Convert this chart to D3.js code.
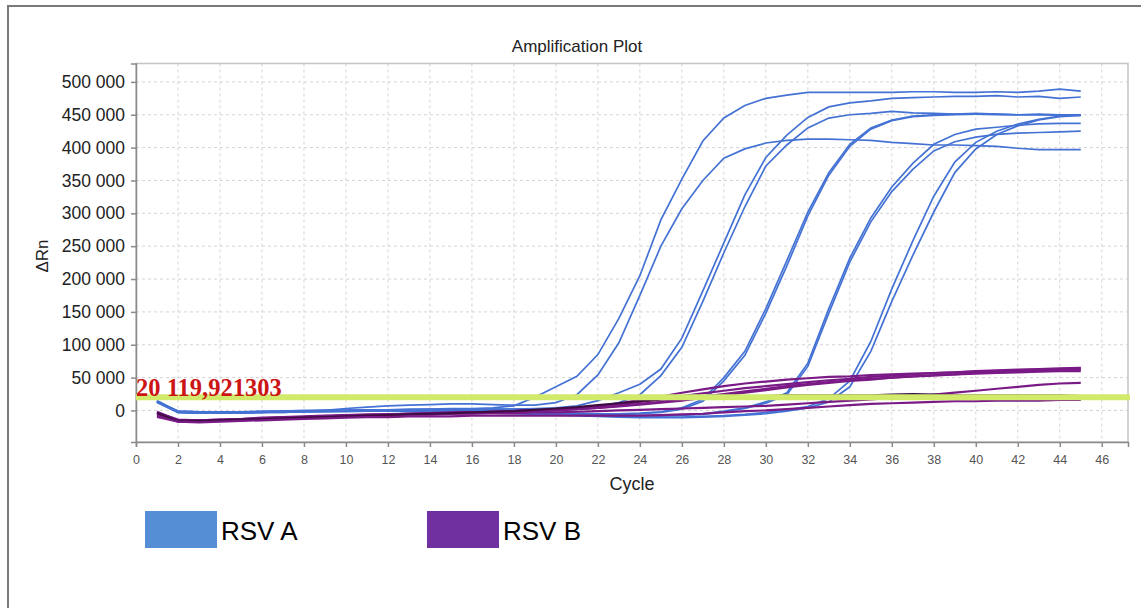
<!DOCTYPE html>
<html>
<head>
<meta charset="utf-8">
<script src="https://cdn.jsdelivr.net/npm/d3@7/dist/d3.min.js"></script>
<style>
    body { margin: 0; background: #fff; }
    svg { font-family: Arial, "Liberation Sans", sans-serif; }
</style>
</head>
<body>
<script>
// cycle numbers (x)
var cycles = [1,2,3,4,5,6,7,8,9,10,11,12,13,14,15,16,17,18,19,20,21,22,23,24,25,26,27,28,29,30,
              31,32,33,34,35,36,37,38,39,40,41,42,43,44,45];

// ΔRn, in thousands, one value per cycle
// RSV A (blue)
var a1 = [14,-2,-3,-3,-2,-2,-1,-1,0,0,1,1,2,2,3,3,4,7,20,36,52,85,140,205,290,352,410,445,464,475,480,484,484,484,484,484,485,485,484,484,485,484,486,489,486];
var a2 = [13,-1,-2,-2,-2,-1,-1,0,0,3,5,7,8,9,10,10,9,8,8,12,24,54,103,175,250,307,350,384,398,407,411,413,413,412,411,408,406,404,404,403,402,399,397,397,397];
var a3 = [14,-2,-3,-3,-3,-2,-2,-1,-1,0,0,1,1,2,2,2,2,2,3,4,7,15,27,40,63,110,182,255,328,385,419,446,462,468,471,475,476,477,478,478,479,477,478,475,477];
var a4 = [12,-3,-4,-4,-3,-3,-2,-2,-1,-1,0,0,1,1,1,2,2,2,2,1,2,5,12,24,53,96,166,240,310,372,404,430,445,450,452,455,453,452,451,451,450,450,450,449,449];
var a5 = [15,-2,-3,-3,-3,-2,-2,-1,-1,0,0,1,1,1,1,0,0,-1,-2,-3,-4,-5,-5,-4,-2,4,17,50,90,155,228,302,362,405,430,442,448,450,451,452,451,450,451,450,450];
var a6 = [14,-1,-2,-2,-2,-2,-1,-1,0,0,1,1,1,1,0,0,-1,-2,-3,-4,-5,-6,-6,-5,-3,2,14,45,84,148,220,296,358,402,428,441,447,449,450,451,451,450,450,450,450];
var a7 = [13,-3,-4,-4,-3,-3,-2,-2,-1,-1,-1,0,0,0,-1,-1,-2,-3,-4,-5,-6,-7,-8,-8,-8,-7,-5,-1,4,13,27,72,155,232,293,340,376,405,420,428,431,434,436,437,437];
var a8 = [14,-2,-3,-3,-3,-2,-2,-1,-1,-1,0,0,0,-1,-1,-2,-2,-3,-4,-5,-6,-7,-7,-8,-8,-7,-6,-2,3,11,24,67,148,226,287,333,367,395,409,416,420,422,423,424,425];
var a9 = [13,-3,-4,-4,-4,-3,-3,-2,-2,-1,-1,-1,-1,-2,-2,-3,-3,-4,-5,-6,-7,-8,-9,-10,-10,-10,-9,-8,-6,-3,1,6,18,45,105,185,258,326,378,408,425,436,443,448,450];
var a10 = [14,-2,-3,-4,-4,-3,-3,-2,-2,-2,-1,-1,-2,-2,-3,-3,-4,-5,-6,-7,-8,-9,-10,-11,-11,-11,-10,-9,-7,-5,-1,4,13,36,90,166,236,302,362,398,420,433,442,447,449];

// RSV B (purple)
var b1 = [-2,-15,-16,-15,-14,-12,-11,-10,-9,-8,-7,-6,-5,-5,-4,-3,-2,-1,0,2,4,7,11,16,21,27,32,37,41,44,47,49,51,52,54,55,56,57,58,59,60,61,62,63,64];
var b2 = [-5,-17,-17,-16,-15,-13,-12,-11,-10,-9,-8,-7,-6,-6,-5,-4,-3,-2,-1,0,2,4,7,10,13,17,21,25,29,33,37,40,43,46,48,50,52,54,55,57,58,59,60,61,62];
var b3 = [-8,-16,-16,-15,-13,-12,-11,-10,-9,-8,-7,-6,-5,-4,-4,-3,-2,-1,0,1,3,6,9,13,17,22,26,30,34,37,40,43,46,48,51,53,55,57,58,60,61,62,63,64,65];
var b4 = [-3,-14,-15,-14,-13,-11,-10,-9,-8,-7,-6,-6,-5,-4,-3,-3,-2,-1,0,1,2,4,6,9,12,15,19,23,27,31,35,39,42,45,47,50,52,53,55,56,57,58,59,60,60];
var b5 = [-6,-15,-15,-14,-13,-12,-11,-10,-9,-8,-7,-7,-6,-6,-5,-5,-4,-4,-3,-3,-2,-1,0,1,2,3,4,5,6,7,9,11,13,15,17,19,21,24,27,30,33,36,39,41,42];
var b6 = [-4,-16,-16,-15,-14,-13,-12,-11,-10,-9,-8,-7,-6,-5,-4,-3,-2,-1,1,3,5,8,11,14,17,19,21,22,22,22,23,23,23,23,23,24,25,24,23,23,23,23,23,23,22];
var b7 = [-10,-17,-18,-17,-16,-15,-14,-13,-12,-11,-10,-10,-9,-9,-9,-8,-8,-8,-8,-8,-8,-8,-8,-8,-7,-6,-5,-3,-1,0,2,4,6,8,10,11,12,13,14,14,15,15,15,16,16];

var rsvA = [a1, a2, a3, a4, a5, a6, a7, a8, a9, a10];
var rsvB = [b1, b2, b3, b4, b5, b6, b7];

// threshold and axis ticks
var threshold = 20119.921303;
var thresholdLabel = "20 119,921303";
var yTicks = [0,50000,100000,150000,200000,250000,300000,350000,400000,450000,500000];
var xTicks = [0,2,4,6,8,10,12,14,16,18,20,22,24,26,28,30,32,34,36,38,40,42,44,46];

var legendNames = ["RSV A", "RSV B"];
var legendColours = ["#558ed5", "#7030a0"];

var width = 1141, height = 608;
var plotLeft = 136, plotRight = 1128, plotTop = 63.5, plotBottom = 442;

var svg = d3.select("body").append("svg")
    .attr("width", width)
    .attr("height", height);

svg.append("rect")
    .attr("width", width).attr("height", height)
    .attr("fill", "#fff");

// outer frame of the slide
svg.append("rect")
    .attr("x", 8).attr("y", 6)
    .attr("width", width + 10).attr("height", height + 10)
    .attr("fill", "none")
    .attr("stroke", "#7a7a7a")
    .attr("stroke-width", 2);

var x = d3.scaleLinear().domain([0, 47.25]).range([plotLeft, plotRight]);
var y = d3.scaleLinear().domain([-48000, 528000]).range([plotBottom, plotTop]);

// grid, dashed
var grid = svg.append("g").attr("stroke", "#d4d4d4").attr("stroke-dasharray", "3,3");
grid.selectAll("line.v").data(xTicks.slice(1)).enter().append("line")
    .attr("class", "v")
    .attr("x1", d => x(d)).attr("x2", d => x(d))
    .attr("y1", plotTop).attr("y2", plotBottom);
grid.selectAll("line.h").data(yTicks).enter().append("line")
    .attr("class", "h")
    .attr("x1", plotLeft).attr("x2", plotRight)
    .attr("y1", d => y(d)).attr("y2", d => y(d));

// plot frame
svg.append("rect")
    .attr("x", plotLeft).attr("y", plotTop)
    .attr("width", plotRight - plotLeft).attr("height", plotBottom - plotTop)
    .attr("fill", "none").attr("stroke", "#c4c4c4").attr("stroke-width", 1.5);

// space as thousands separator
var fmt = d3.formatLocale({ decimal: ",", thousands: " ", grouping: [3], currency: ["", ""] }).format(",d");

var yAxis = svg.append("g")
    .attr("transform", "translate(" + plotLeft + ",0)")
    .call(d3.axisLeft(y).tickValues(yTicks).tickFormat(fmt).tickSize(5).tickPadding(6));
yAxis.selectAll("text").attr("font-size", 17.5).attr("fill", "#222").attr("font-family", "Arial, 'Liberation Sans', sans-serif");

var xAxis = svg.append("g")
    .attr("transform", "translate(0," + plotBottom + ")")
    .call(d3.axisBottom(x).tickValues(xTicks).tickSize(5).tickPadding(8));
xAxis.selectAll("text").attr("font-size", 12.5).attr("fill", "#555").attr("font-family", "Arial, 'Liberation Sans', sans-serif");

[yAxis, xAxis].forEach(function (g) {
    g.select(".domain").attr("stroke", "#8a8a8a").attr("stroke-width", 1.5);
    g.selectAll(".tick line").attr("stroke", "#8a8a8a").attr("stroke-width", 1.5);
});

// curves
var line = d3.line()
    .x((d, i) => x(cycles[i]))
    .y(d => y(d * 1000));

svg.append("g").selectAll("path").data(rsvA).enter().append("path")
    .attr("d", line)
    .attr("fill", "none")
    .attr("stroke", "#4472d4")
    .attr("stroke-width", 1.7);

svg.append("g").selectAll("path").data(rsvB).enter().append("path")
    .attr("d", line)
    .attr("fill", "none")
    .attr("stroke", (d, i) => i == 5 ? "#3e0c40" : "#7a1a86")
    .attr("stroke-width", 2.2);

// threshold
svg.append("line")
    .attr("x1", plotLeft).attr("x2", plotRight + 2)
    .attr("y1", y(threshold)).attr("y2", y(threshold))
    .attr("stroke", "#d2ea6c")
    .attr("stroke-width", 6);

svg.append("text")
    .attr("x", plotLeft).attr("y", y(threshold) - 1)
    .attr("font-family", "'Liberation Serif', 'Times New Roman', serif")
    .attr("font-weight", "bold")
    .attr("font-size", 24.5)
    .attr("fill", "#cc1414")
    .text(thresholdLabel);

// titles
svg.append("text")
    .attr("x", 577).attr("y", 52)
    .attr("text-anchor", "middle")
    .attr("font-size", 17)
    .attr("fill", "#222")
    .text("Amplification Plot");

svg.append("text")
    .attr("x", 632).attr("y", 490)
    .attr("text-anchor", "middle")
    .attr("font-size", 18)
    .attr("fill", "#222")
    .text("Cycle");

svg.append("text")
    .attr("transform", "translate(48,256) rotate(-90)")
    .attr("text-anchor", "middle")
    .attr("font-size", 17)
    .attr("fill", "#222")
    .text("ΔRn");

// legend
var legendX = [145, 427];
var legend = svg.append("g").selectAll("g").data(legendNames).enter().append("g")
    .attr("transform", (d, i) => "translate(" + legendX[i] + ",511)");
legend.append("rect")
    .attr("width", 72).attr("height", 37)
    .attr("fill", (d, i) => legendColours[i]);
legend.append("text")
    .attr("x", 76).attr("y", 29)
    .attr("font-size", 26)
    .attr("fill", "#000")
    .text(d => d);
</script>
</body>
</html>
